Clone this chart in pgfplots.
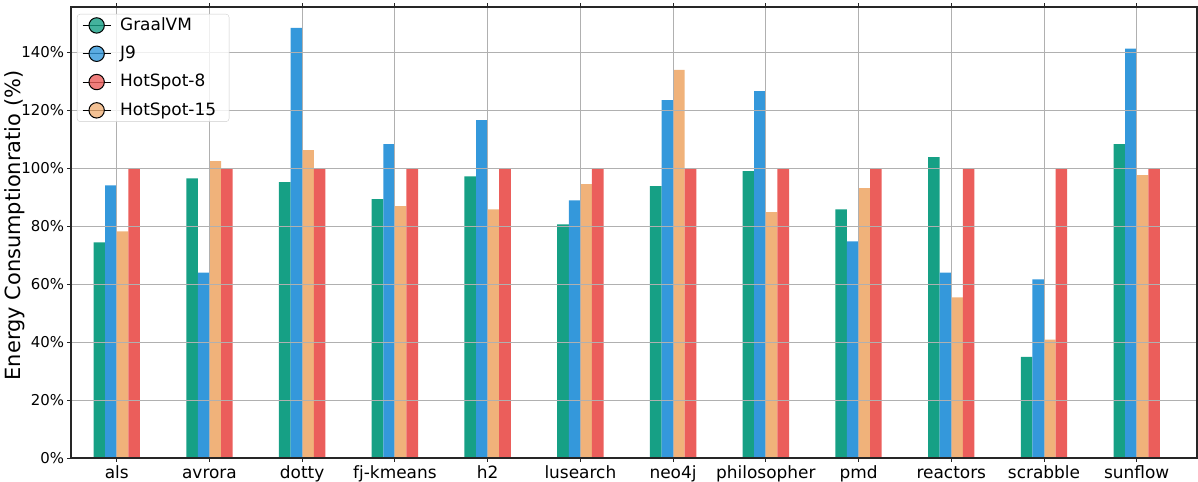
\documentclass[border=0pt]{standalone}
\usepackage{pgfplots}
\usepackage{pgfplotstable}
\pgfplotsset{compat=1.18}
\usepackage{fontspec}
\setmainfont{DejaVu Sans}
\definecolor{cg}{HTML}{16A085}
\definecolor{cb}{HTML}{3498DB}
\definecolor{co}{HTML}{F0B27A}
\definecolor{cr}{HTML}{EB5E5B}
\definecolor{gridc}{HTML}{B0B0B0}
\pgfplotstableread{
x g j hb ha
0 74.4 94.1 78.2 100
1 96.5 64.0 102.4 100
2 95.2 148.4 106.2 100
3 89.3 108.3 86.9 100
4 97.2 116.6 85.8 100
5 80.6 88.9 94.5 100
6 93.8 123.5 133.9 100
7 99.0 126.6 84.8 100
8 85.8 74.7 93.1 100
9 103.8 64.0 55.4 100
10 34.9 61.6 40.8 100
11 108.3 141.2 97.6 100
}\datatable
\begin{document}
\begin{tikzpicture}
\begin{axis}[
  name=ax,
  scale only axis,
  width=1126bp, height=451bp,
  xmin=-0.493, xmax=11.65,
  ymin=0, ymax=155.6,
  xtick={0,1,2,3,4,5,6,7,8,9,10,11},
  xticklabels={als,avrora,dotty,fj-kmeans,h2,lusearch,neo4j,philosopher,pmd,reactors,scrabble,sunflow},
  ytick={0,20,40,60,80,100,120,140},
  yticklabels={0\%,20\%,40\%,60\%,80\%,100\%,120\%,140\%},
  xticklabel style={font=\fontsize{17}{20}\selectfont, text height=13bp, text depth=4bp},
  yticklabel style={font=\fontsize{15}{18}\selectfont},
  grid=major,
  major grid style={color=gridc, line width=1bp},
  axis on top,
  axis line style={line width=1.25bp, color=black!85},
  tick align=outside,
  major tick length=3.5bp,
  tick style={color=black!85, line width=1bp},
  ylabel={Energy Consumptionratio (\%)},
  ylabel style={font=\fontsize{21}{24}\selectfont, at={(axis description cs:-0.0497,0.5155)}, anchor=center},
  legend cell align=left,
  legend style={
    at={(0.0053,0.9845)}, anchor=north west,
    draw=black!20, rounded corners=3bp, fill=white, fill opacity=0.8, text opacity=1,
    font=\fontsize{17}{20}\selectfont,
    inner xsep=5bp, inner ysep=3bp,
    nodes={inner sep=0pt, text height=13bp, text depth=3.5bp},
    row sep=11.8bp, column sep=9bp,
  },
]
\addlegendimage{legend image code/.code={\draw[black, line width=1bp] (0bp,0bp) -- (28bp,0bp); \draw[black, line width=1bp, fill=cg] (14bp,0bp) circle (7.7bp);}}
\addlegendentry{GraalVM}
\addlegendimage{legend image code/.code={\draw[black, line width=1bp] (0bp,0bp) -- (28bp,0bp); \draw[black, line width=1bp, fill=cb] (14bp,0bp) circle (7.7bp);}}
\addlegendentry{J9}
\addlegendimage{legend image code/.code={\draw[black, line width=1bp] (0bp,0bp) -- (28bp,0bp); \draw[black, line width=1bp, fill=cr] (14bp,0bp) circle (7.7bp);}}
\addlegendentry{HotSpot-8}
\addlegendimage{legend image code/.code={\draw[black, line width=1bp] (0bp,0bp) -- (28bp,0bp); \draw[black, line width=1bp, fill=co] (14bp,0bp) circle (7.7bp);}}
\addlegendentry{HotSpot-15\hspace*{8bp}}
\addplot[ybar, bar width=0.125, bar shift=-0.1875, fill=cg, draw=none, forget plot] table[x=x, y=g] {\datatable};
\addplot[ybar, bar width=0.125, bar shift=-0.0625, fill=cb, draw=none, forget plot] table[x=x, y=j] {\datatable};
\addplot[ybar, bar width=0.125, bar shift=0.0625, fill=co, draw=none, forget plot] table[x=x, y=hb] {\datatable};
\addplot[ybar, bar width=0.125, bar shift=0.1875, fill=cr, draw=none, forget plot] table[x=x, y=ha] {\datatable};
\end{axis}
\pgfresetboundingbox
\path[use as bounding box] ([shift={(-71bp,-23bp)}]ax.south west) rectangle ([shift={(1bp,7bp)}]ax.north east);
\end{tikzpicture}
\end{document}
